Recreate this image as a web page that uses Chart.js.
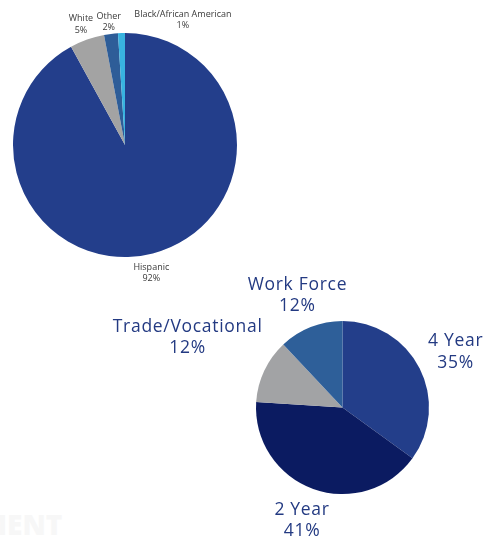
<!DOCTYPE html>
<html>
<head>
<meta charset="utf-8">
<script src="https://cdn.jsdelivr.net/npm/chart.js@4.4.1/dist/chart.umd.min.js"></script>
<style>
  html, body { margin: 0; padding: 0; background: #ffffff; }
  body { width: 485px; height: 538px; position: relative; overflow: hidden; }
  .layer { position: absolute; left: 0; top: 0; width: 485px; height: 538px; }
  #ghost { position: absolute; left: -20px; top: 505px; font-family: "Open Sans", sans-serif;
           font-weight: 800; font-size: 28px; color: #f7f7f7; white-space: nowrap; }
</style>
</head>
<body>
<div id="ghost">MENT</div>
<div class="layer"><canvas id="c1"></canvas></div>
<div class="layer"><canvas id="c2"></canvas></div>
<script>
// ---- Data ----
const ethnicityLabels = ["Hispanic", "White", "Other", "Black/African American"];
const ethnicityValues = [92, 5, 2, 1];
const planLabels = ["4 Year", "2 Year", "Trade/Vocational", "Work Force"];
const planValues = [35, 41, 12, 12];

// ---- Styling ----
const ethnicityColors = ["#233E8B", "#A3A3A3", "#2E5D98", "#38B3E0"];
const planColors = ["#233E8A", "#0B1B61", "#A2A3A5", "#2E5F99"];

const outsideLabels = {
  id: 'outsideLabels',
  afterDatasetsDraw(chart, args, opts) {
    const ctx = chart.ctx;
    const meta = chart.getDatasetMeta(0);
    const data = chart.data.datasets[0].data;
    const total = data.reduce((a, b) => a + b, 0);
    ctx.save();
    ctx.fillStyle = opts.color;
    ctx.font = opts.font;
    if ('letterSpacing' in ctx) ctx.letterSpacing = opts.letterSpacing || '0px';
    ctx.textAlign = 'center';
    ctx.textBaseline = 'middle';
    meta.data.forEach((arc, i) => {
      const p = arc.getProps(['x', 'y', 'startAngle', 'endAngle', 'outerRadius'], true);
      const mid = (p.startAngle + p.endAngle) / 2;
      const d = p.outerRadius + opts.gap;
      const n = opts.nudge[i] || [0, 0];
      const cx = p.x + Math.cos(mid) * d + n[0];
      const cy = p.y + Math.sin(mid) * d + n[1];
      const pct = Math.round(data[i] / total * 100) + '%';
      const lines = [chart.data.labels[i], pct];
      const h = opts.lineHeight;
      lines.forEach((t, k) => {
        ctx.fillText(t, cx, cy + (k - (lines.length - 1) / 2) * h);
      });
    });
    ctx.restore();
  }
};

function makePie(id, labels, values, colors, padding, labelOpts) {
  return new Chart(document.getElementById(id), {
    type: 'pie',
    data: {
      labels: labels,
      datasets: [{ data: values, backgroundColor: colors, borderWidth: 0 }]
    },
    options: {
      responsive: true,
      maintainAspectRatio: false,
      animation: false,
      events: [],
      layout: { padding: padding },
      plugins: {
        legend: { display: false },
        tooltip: { enabled: false },
        outsideLabels: labelOpts
      }
    },
    plugins: [outsideLabels]
  });
}

makePie('c1', ethnicityLabels, ethnicityValues, ethnicityColors,
  { left: 13, top: 33, right: 248, bottom: 281 },
  { color: '#3a3a3a', font: '9px "Open Sans", sans-serif', lineHeight: 11.5, gap: 18,
    nudge: [[-6, 2], [0, 2], [0, 6], [62, 5]] });

makePie('c2', planLabels, planValues, planColors,
  { left: 256, top: 321, right: 56, bottom: 44 },
  { color: '#233A82', font: '17.5px "Open Sans", sans-serif', letterSpacing: '0.7px', lineHeight: 21.5, gap: 36,
    nudge: [[4, 0], [1, -2], [-44, -18], [0, 2]] });
</script>
</body>
</html>
